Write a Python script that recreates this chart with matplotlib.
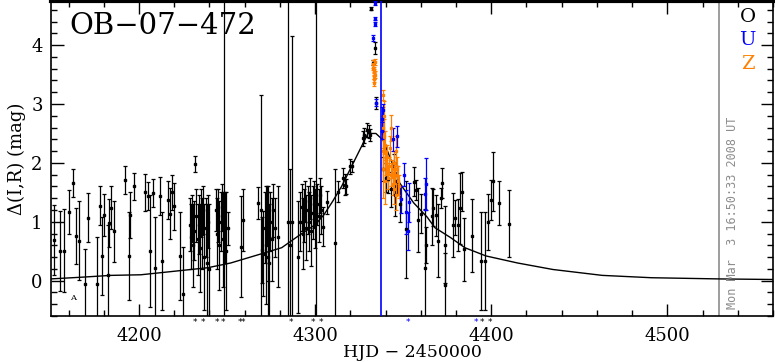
import matplotlib

matplotlib.use("Agg")

import matplotlib.pyplot as plt
from matplotlib.ticker import MultipleLocator
from matplotlib.transforms import blended_transform_factory

NEGRO = "#000000"
AZUL = "#0000ff"
NARANJA = "#ff8000"
GRIS = "#8c8c8c"

# --- datos O (negro): HJD-2450000, delta mag, error ---
o_t = [4151.9, 4155.3, 4157.2, 4160.4, 4162.3, 4164.2, 4166.1, 4169.1, 4171.2,
       4176.3, 4178.0, 4179.1, 4180.3, 4182.2, 4183.0, 4184.3, 4186.0, 4192.0,
       4194.1, 4195.0, 4197.2,
       4203.4, 4204.9, 4206.5, 4208.1, 4209.1, 4212.1, 4213.0, 4216.3, 4217.4,
       4218.8, 4220.0, 4223.1, 4225.2,
       4229.0, 4229.6, 4230.2, 4230.8, 4231.4, 4232.0, 4232.6, 4233.2, 4233.8,
       4234.4, 4235.0, 4235.6, 4236.2, 4236.8, 4238.0, 4238.6, 4239.3, 4240.0,
       4243.5, 4244.2, 4244.9, 4245.6, 4246.3, 4247.0, 4247.6, 4248.3, 4249.0,
       4249.6, 4250.7, 4258.0, 4259.3,
       4267.8, 4269.3, 4270.0, 4270.6, 4271.5, 4272.0, 4272.5, 4273.0, 4273.5,
       4274.0, 4274.6, 4275.3, 4276.0, 4277.0, 4278.8,
       4284.5, 4285.8, 4287.0, 4290.2,
       4291.5, 4292.3, 4293.0, 4293.7, 4294.4, 4295.0, 4295.7, 4296.4, 4297.1,
       4297.8, 4298.5, 4299.2, 4299.9, 4300.6, 4301.3, 4302.0, 4302.7, 4303.4,
       4304.5, 4306.8, 4311.0, 4313.0, 4315.7, 4316.7, 4317.5, 4320.0, 4321.0,
       4327.1, 4328.0, 4329.4, 4330.3, 4331.0,
       4331.6, 4333.0, 4334.0, 4334.5,
       4338.5, 4340.5, 4341.5, 4343.0, 4344.5, 4345.5, 4346.5, 4348.0,
       4351.7, 4356.4, 4357.4, 4358.3, 4360.0, 4362.1, 4363.0, 4366.3, 4366.8,
       4368.8, 4370.0, 4371.4, 4372.0, 4373.5, 4374.0, 4378.2, 4379.3, 4381.0,
       4382.0, 4383.3, 4384.8, 4389.2, 4393.9, 4396.5, 4398.1, 4400.0, 4401.0,
       4404.2, 4410.2]
o_mag = [0.69, 0.51, 0.51, 1.17, 1.66, 0.76, 0.68, -0.06, 1.07,
         -0.06, 1.27, 0.42, 1.12, 0.09, 0.98, 1.24, 0.84, 1.71,
         0.42, 1.12, 1.60,
         1.50, 1.44, 0.50, 1.49, 0.22, 1.44, 0.33, 1.37, 1.14,
         1.50, 1.26, 0.42, -0.22,
         0.95, 0.75, 1.05, 0.60, 0.85, 1.98, 1.10, 0.70, 0.95,
         0.55, 1.15, 0.80, 1.20, 0.40, 0.90, 0.30, 1.00, 0.20,
         1.20, 0.80, 1.10, 0.60, 1.00, 1.25, 0.70, 1.00, 0.90,
         0.50, 0.89, 0.58, 1.03,
         1.32, 1.20, 0.52, 0.46, 0.90, 0.60, 1.10, 0.40, 0.80,
         0.30, 1.00, 0.70, 1.20, 0.90, 0.75,
         1.00, 0.60, 1.00, 0.40,
         1.00, 1.25, 0.80, 1.10, 1.35, 0.90, 1.20, 1.00, 1.40,
         0.85, 1.15, 1.30, 1.05, 1.00, 1.30, 1.10, 1.45, 1.20,
         0.92, 1.33, 0.64, 1.51, 1.74, 1.63, 1.60, 1.94, 1.94,
         2.42, 2.47, 2.56, 2.53, 2.47,
         4.62, 3.70, 3.95, 3.02,
         1.90, 1.75, 1.73, 1.55, 2.00, 1.45, 1.70, 1.30,
         0.87, 1.68, 1.54, 1.03, 1.14, 0.22, 0.61, 1.09, 1.24,
         1.11, 0.68, 1.40, 1.66, 0.61, -0.07, 0.95, 1.07, 0.95,
         1.23, 1.51, 0.53, 0.76, 0.33, 0.33, 1.00, 1.37, 1.69,
         1.32, 0.97]
o_err = [0.59, 0.68, 0.70, 0.37, 0.24, 0.48, 0.67, 0.60, 0.42,
         0.80, 0.33, 0.66, 0.36, 0.85, 0.41, 0.36, 0.52, 0.23,
         0.74, 0.39, 0.23,
         0.31, 0.24, 0.95, 0.24, 0.86, 0.32, 0.83, 0.33, 0.44,
         0.30, 0.40, 0.75, 0.80,
         0.45, 0.55, 0.40, 0.70, 0.50, 0.14, 0.45, 0.60, 0.50,
         0.75, 0.40, 0.60, 0.40, 0.90, 0.50, 1.00, 0.45, 1.10,
         0.35, 0.60, 0.45, 0.75, 0.50, 0.40, 0.80, 5.00, 0.60,
         1.00, 0.28, 0.86, 0.52,
         0.27, 1.95, 0.56, 0.72, 0.60, 1.00, 0.50, 1.10, 0.80,
         1.00, 0.50, 0.70, 0.45, 0.50, 0.86,
         5.00, 1.30, 3.15, 0.95,
         0.50, 0.40, 0.60, 0.45, 0.35, 0.55, 0.40, 0.50, 0.35,
         0.60, 0.45, 0.40, 0.50, 5.00, 0.35, 0.45, 0.30, 0.40,
         0.33, 0.20, 1.25, 0.18, 0.17, 0.18, 0.12, 0.12, 0.10,
         0.13, 0.13, 0.12, 0.11, 0.10,
         0.03, 0.04, 0.10, 0.10,
         0.20, 0.25, 0.24, 0.30, 0.15, 0.35, 0.25, 0.30,
         0.82, 0.25, 0.17, 0.55, 0.33, 1.00, 0.31, 0.48, 0.31,
         0.35, 0.62, 0.17, 0.25, 0.65, 0.54, 0.54, 0.30, 0.44,
         0.60, 0.33, 0.54, 0.62, 0.83, 0.83, 0.48, 0.34, 0.50,
         0.37, 0.57]

# --- datos U (azul) ---
u_t = [4334.0, 4334.0, 4334.0, 4332.6, 4334.3, 4337.8, 4338.2, 4338.6, 4344.0,
       4346.6, 4348.9, 4350.4, 4351.7, 4352.6, 4353.2, 4362.1, 4363.0]
u_mag = [4.72, 4.45, 4.36, 4.12, 3.02, 2.75, 2.55, 2.90, 2.40,
         2.45, 1.38, 1.80, 1.17, 0.84, 1.33, 1.47, 1.64]
u_err = [0.03, 0.03, 0.03, 0.05, 0.06, 0.20, 0.15, 0.10, 0.20,
         0.18, 0.23, 0.20, 0.37, 0.32, 0.33, 0.27, 0.44]

# --- datos Z (naranja) ---
z_t = [4333.0, 4333.1, 4333.2, 4333.3, 4333.4, 4333.5, 4333.6, 4333.8, 4334.0,
       4338.3, 4338.5, 4338.8, 4339.0, 4339.2, 4339.4, 4339.6, 4338.5,
       4340.2, 4340.6, 4341.0, 4341.5, 4342.0, 4342.5, 4343.0, 4343.3, 4343.5,
       4344.0, 4344.5, 4345.0, 4345.5, 4346.0, 4346.0, 4346.5, 4347.0, 4347.5]
z_mag = [3.68, 3.62, 3.55, 3.48, 3.42, 3.36, 3.58, 3.50, 3.72,
         2.60, 2.20, 1.90, 2.80, 2.45, 1.70, 2.30, 3.15,
         2.00, 1.85, 2.10, 1.75, 1.95, 2.25, 1.80, 2.60, 1.90,
         1.65, 2.00, 1.55, 1.80, 1.45, 2.20, 1.90, 1.70, 1.60]
z_err = [0.06, 0.05, 0.05, 0.06, 0.05, 0.06, 0.05, 0.06, 0.05,
         0.35, 0.30, 0.50, 0.25, 0.30, 0.40, 0.25, 0.08,
         0.20, 0.15, 0.20, 0.20, 0.15, 0.20, 0.20, 0.22, 0.15,
         0.20, 0.20, 0.25, 0.15, 0.25, 0.25, 0.20, 0.25, 0.20]

# --- curva del modelo ---
mod_t = [4150, 4168, 4184, 4201, 4220, 4239, 4252, 4271, 4281, 4290, 4300,
         4305, 4310, 4315, 4320, 4325, 4330, 4334.5, 4338.5, 4341.5, 4348,
         4351, 4356, 4363.6, 4368, 4377, 4385, 4397, 4415, 4435, 4463, 4491,
         4529, 4560]
mod_mag = [0.03, 0.06, 0.09, 0.10, 0.16, 0.22, 0.30, 0.47, 0.56, 0.75, 0.95,
           1.12, 1.35, 1.60, 1.90, 2.20, 2.50, 2.50, 2.39, 2.17, 1.66,
           1.53, 1.32, 1.08, 0.90, 0.73, 0.56, 0.42, 0.30, 0.19, 0.09, 0.05,
           0.03, 0.02]

# asteriscos bajo el eje
ast_negro = [4231.8, 4236.4, 4244.3, 4247.7, 4257.4, 4259.1, 4286.4, 4298.9,
             4303.4, 4394.9, 4399.4]
ast_azul = [4352.8, 4391.5]

T_AZUL = 4337.5
T_GRIS = 4529.5
FECHA = "Mon Mar  3 16:50:33 2008 UT"

FUENTE = "DejaVu Serif"


def serie(ax, t, m, e, color):
    ax.errorbar(t, m, yerr=e, fmt="s", ms=1.5, color=color, ecolor=color,
                elinewidth=0.9, capsize=1.6, capthick=0.9, lw=0, zorder=3)


fig = plt.figure(figsize=(7.75, 3.62), dpi=100)
ax = fig.add_axes([51 / 775, 46 / 362, 722 / 775, 315 / 362])
ax.set_xlim(4150, 4560)
ax.set_ylim(-0.6, 4.75)

ax.plot(mod_t, mod_mag, color=NEGRO, lw=1.0, zorder=2)
serie(ax, o_t, o_mag, o_err, NEGRO)
serie(ax, z_t, z_mag, z_err, NARANJA)
serie(ax, u_t, u_mag, u_err, AZUL)

ax.axvline(T_AZUL, color=AZUL, lw=1.2, zorder=4)
ax.axvline(T_GRIS, color=GRIS, lw=1.2, zorder=1)

ax.xaxis.set_major_locator(MultipleLocator(100))
ax.xaxis.set_minor_locator(MultipleLocator(20))
ax.yaxis.set_major_locator(MultipleLocator(1))
ax.yaxis.set_minor_locator(MultipleLocator(0.2))
ax.tick_params(which="both", direction="in", top=True, right=True,
               width=1.0, labelsize=13)
ax.tick_params(which="major", length=9)
ax.tick_params(which="minor", length=4.5)
ax.tick_params(axis="x", pad=8)
ax.tick_params(axis="y", pad=6)
for lab in ax.get_xticklabels() + ax.get_yticklabels():
    lab.set_family(FUENTE)
for s in ax.spines.values():
    s.set_linewidth(1.2)
ax.spines["top"].set_linewidth(3)

ax.set_xlabel("HJD \u2212 2450000", fontsize=12.5, family=FUENTE,
              labelpad=-1)
ax.set_ylabel("\u0394(I,R) (mag)", fontsize=13, family=FUENTE, labelpad=4)

ax.text(0.025, 0.965, "OB\u221207\u2212472", transform=ax.transAxes,
        fontsize=21, family=FUENTE, va="top", ha="left")
ax.text(4162.3, -0.29, "A", fontsize=6, family=FUENTE, ha="center",
        va="center")

# leyenda de observatorios
for letra, color, yy in [("O", NEGRO, 0.95), ("U", AZUL, 0.875),
                         ("Z", NARANJA, 0.80)]:
    ax.text(0.965, yy, letra, transform=ax.transAxes, color=color,
            fontsize=14, family=FUENTE, ha="center", va="center")

ax.text(4537, -0.48, FECHA, rotation=90, color=GRIS, fontsize=8.5,
        family="DejaVu Sans Mono", ha="center", va="bottom")

tr = blended_transform_factory(ax.transData, ax.transAxes)
for t in ast_negro:
    ax.text(t, -0.022, "*", transform=tr, fontsize=6.5, ha="center",
            va="center", color=NEGRO, clip_on=False)
for t in ast_azul:
    ax.text(t, -0.022, "*", transform=tr, fontsize=6.5, ha="center",
            va="center", color=AZUL, clip_on=False)

fig.savefig("out.png", dpi=100)
